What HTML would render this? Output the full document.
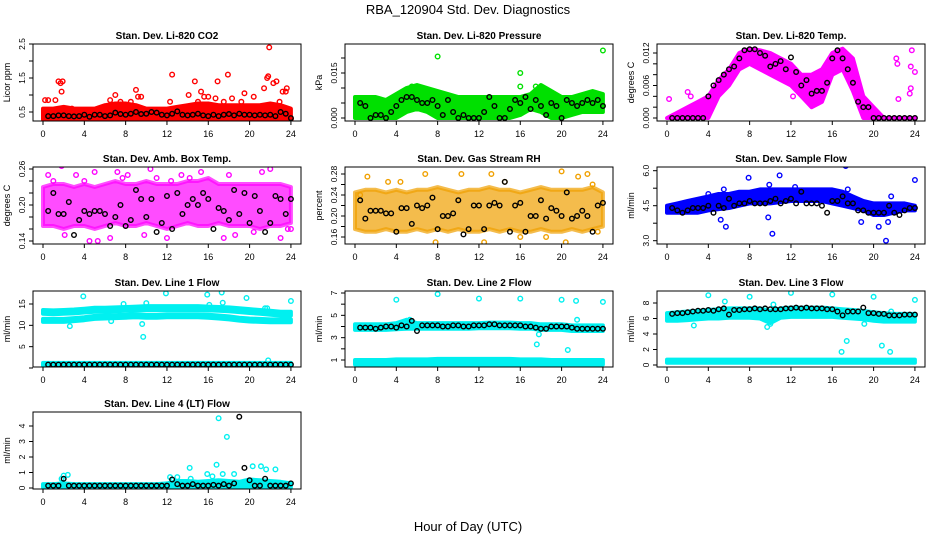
<!DOCTYPE html>
<html><head><meta charset="utf-8"><style>
html,body{margin:0;padding:0;background:#fff}
svg{display:block}
text{font-family:"Liberation Sans",sans-serif;fill:#000}
</style></head><body>
<svg id="chart" width="936" height="540" viewBox="0 0 936 540" xmlns="http://www.w3.org/2000/svg">
<text x="468" y="14" font-size="13" text-anchor="middle">RBA_120904  Std. Dev. Diagnostics</text>
<text x="468" y="531" font-size="13" text-anchor="middle">Hour of Day (UTC)</text>
</svg>
<script>
// ---- data ----
const bandHours = [0,1,2,3,4,5,6,7,8,9,10,11,12,13,14,15,16,17,18,19,20,21,22,23,24];
const xTicks = [0,4,8,12,16,20,24];

const co2Lo = [0.28,0.28,0.28,0.28,0.28,0.28,0.28,0.28,0.28,0.28,0.28,0.28,0.28,0.28,0.28,0.28,0.28,0.28,0.28,0.28,0.28,0.28,0.28,0.28,0.28];
const co2Hi = [0.6,0.6,0.65,0.6,0.6,0.6,0.7,0.75,0.75,0.7,0.6,0.6,0.6,0.65,0.7,0.75,0.75,0.7,0.7,0.7,0.7,0.7,0.75,0.7,0.6];
const co2Out = [[0.2,0.85],[0.5,0.85],[1.2,0.85],[1.5,1.4],[1.7,1.35],[1.9,1.4],[1.8,1.1],[2.8,0.6],[6.5,0.85],[7,1.0],[7.5,0.8],[8.5,0.8],[9,1.15],[9.2,0.95],[9.5,0.95],[12.3,0.8],[12.5,1.6],[14.1,1.0],[14.7,1.4],[15,0.8],[15.3,1.1],[15.6,0.95],[16,0.95],[16.7,0.9],[16.9,1.4],[17.5,0.8],[17.9,1.6],[18.3,0.9],[19.2,0.8],[19.5,1.05],[20.4,0.95],[21.4,1.2],[21.7,1.5],[21.8,1.55],[21.9,2.4],[22.3,1.35],[22.6,1.4],[22.9,0.8],[23.2,1.1],[23.6,1.2],[23.5,1.1],[24,0.3]];
const co2Black = [0.38,0.38,0.4,0.4,0.38,0.37,0.38,0.42,0.36,0.42,0.42,0.38,0.4,0.48,0.44,0.42,0.45,0.5,0.44,0.45,0.5,0.48,0.42,0.4,0.45,0.52,0.42,0.4,0.42,0.45,0.4,0.38,0.42,0.38,0.42,0.44,0.4,0.45,0.42,0.42,0.4,0.42,0.4,0.42,0.38,0.5,0.45,0.32];

const presLo = [0,0,0,0,0,0.002,0.003,0.002,0,0,0,0,0,0,0,0,0.001,0.003,0.002,0,0,0.001,0.002,0.002,0.002];
const presHi = [0.007,0.007,0.007,0.006,0.008,0.01,0.011,0.01,0.009,0.008,0.007,0.007,0.007,0.007,0.007,0.007,0.007,0.008,0.011,0.009,0.007,0.007,0.008,0.009,0.008];
const presOut = [[8,0.0205],[16,0.015],[16,0.0105],[24,0.0225],[5.5,0.0105],[17.5,0.0105]];
const presBlack = [0.005,0.004,0,0.001,0.001,0,0.002,0.004,0.006,0.007,0.007,0.006,0.005,0.005,0.006,0.004,0.001,0.006,0.002,0,0.001,0,0,0,0.002,0.007,0.004,0,0,0.003,0.006,0.005,0.007,0.003,0.006,0.004,0.001,0.005,0.004,0,0.006,0.005,0.004,0.005,0.006,0.005,0.006,0.004];

const tempLo = [0,0,0,0,0,0.004,0.006,0.009,0.01,0.009,0.008,0.007,0.006,0.004,0.002,0.003,0.008,0.009,0.005,0,0,0,0,0,0];
const tempHi = [0,0.001,0.002,0.003,0.004,0.007,0.009,0.012,0.0128,0.0125,0.012,0.011,0.01,0.008,0.008,0.009,0.012,0.0128,0.011,0.004,0.002,0,0,0,0];
const tempOut = [[0.2,0.0035],[2,0.0048],[2.3,0.004],[12.2,0.004],[22.4,0.0035],[22.2,0.011],[22.3,0.010],[23.5,0.0045],[23.6,0.0055],[23.7,0.0125],[23.6,0.0095],[24,0.0085]];
const tempBlack = [0,0,0,0,0,0,0,0.004,0.006,0.007,0.008,0.009,0.0095,0.011,0.0125,0.0127,0.0127,0.012,0.0115,0.0095,0.01,0.0105,0.009,0.0112,0.0085,0.006,0.007,0.0045,0.005,0.005,0.0065,0.011,0.0125,0.011,0.009,0.0065,0.003,0.002,0.002,0,0,0,0,0,0,0,0,0];

const ambLo = [0.165,0.165,0.16,0.165,0.165,0.16,0.165,0.17,0.165,0.165,0.17,0.165,0.16,0.165,0.17,0.165,0.165,0.17,0.165,0.165,0.165,0.16,0.165,0.165,0.17];
const ambHi = [0.23,0.235,0.235,0.23,0.235,0.23,0.235,0.24,0.235,0.235,0.24,0.235,0.235,0.235,0.24,0.24,0.245,0.235,0.235,0.235,0.235,0.235,0.235,0.235,0.23];
const ambOut = [[0.5,0.25],[1,0.24],[1.8,0.265],[2.1,0.15],[3.2,0.25],[4,0.24],[4.5,0.14],[5,0.255],[5.3,0.14],[6.5,0.145],[7.2,0.255],[7.7,0.245],[8.2,0.25],[9.8,0.15],[10.4,0.26],[11,0.245],[12,0.145],[12.4,0.24],[13.4,0.25],[14.2,0.245],[15.3,0.255],[16.3,0.27],[17.5,0.145],[18,0.25],[18.6,0.15],[20.4,0.155],[21.2,0.255],[22,0.26],[22.5,0.27],[23,0.145],[23.7,0.16],[24,0.16]];
const ambBlack = [0.19,0.22,0.185,0.185,0.205,0.15,0.175,0.19,0.185,0.19,0.19,0.185,0.165,0.18,0.2,0.165,0.175,0.225,0.21,0.18,0.21,0.155,0.17,0.215,0.16,0.22,0.185,0.2,0.21,0.2,0.22,0.21,0.16,0.195,0.19,0.175,0.225,0.185,0.22,0.17,0.215,0.19,0.155,0.17,0.215,0.21,0.185,0.21];

const rhLo = [0.175,0.17,0.17,0.175,0.17,0.17,0.175,0.17,0.175,0.17,0.175,0.17,0.17,0.175,0.17,0.175,0.17,0.17,0.175,0.17,0.17,0.175,0.17,0.175,0.18];
const rhHi = [0.245,0.25,0.25,0.245,0.25,0.245,0.25,0.25,0.255,0.25,0.245,0.25,0.25,0.255,0.25,0.25,0.245,0.25,0.255,0.25,0.25,0.25,0.25,0.255,0.245];
const rhOut = [[0.5,0.24],[1.2,0.275],[3.2,0.265],[4.4,0.265],[6.8,0.28],[7.8,0.15],[10.3,0.28],[12.5,0.15],[13.2,0.28],[14.5,0.265],[16,0.16],[18.5,0.16],[20,0.285],[20.4,0.15],[21.6,0.275],[22.5,0.28],[23,0.26],[23.5,0.17]];
const rhBlack = [0.23,0.195,0.21,0.21,0.21,0.205,0.205,0.17,0.215,0.215,0.185,0.22,0.215,0.22,0.235,0.175,0.2,0.2,0.205,0.23,0.165,0.175,0.22,0.22,0.175,0.22,0.225,0.22,0.265,0.17,0.22,0.225,0.17,0.2,0.2,0.23,0.195,0.215,0.21,0.2,0.245,0.195,0.2,0.21,0.2,0.17,0.22,0.225];

const sfLo = [4.2,4.2,4.2,4.2,4.3,4.35,4.4,4.5,4.6,4.6,4.6,4.65,4.7,4.7,4.7,4.7,4.6,4.5,4.4,4.3,4.1,4.1,4.2,4.3,4.3];
const sfHi = [4.5,4.6,4.7,4.8,4.9,5.0,5.0,5.1,5.1,5.2,5.2,5.2,5.2,5.2,5.2,5.2,5.2,5.1,4.9,4.7,4.6,4.6,4.6,4.6,4.5];
const sfOut = [[5.5,5.2],[5.2,3.9],[5.7,3.6],[7.9,5.7],[9.8,4.0],[10.2,3.3],[10.9,5.8],[12.4,5.3],[16,6.4],[17.3,6.2],[17.5,5.2],[18.8,3.8],[20.5,3.6],[21.2,3.0],[21.4,3.8],[21.7,4.9],[24,5.6],[9.9,5.4],[4,5.0]];
const sfBlack = [4.4,4.3,4.2,4.3,4.4,4.4,4.4,4.5,4.2,4.5,4.4,4.8,4.5,4.6,4.6,4.7,4.6,4.6,4.6,4.7,4.8,4.6,4.7,4.8,4.6,5.1,4.6,4.6,4.6,4.5,4.2,4.7,4.7,4.9,4.6,4.6,4.3,4.3,4.2,4.2,4.2,4.2,4.5,4.2,4.1,4.3,4.4,4.4];

const l1UpLo = [12.7,12.6,12.7,12.8,13,13.2,13.2,13.3,13.4,13.5,13.6,13.6,13.6,13.6,13.6,13.6,13.5,13.4,13.3,13.1,12.9,12.7,12.5,12.3,12.3];
const l1UpHi = [13.6,13.5,13.6,13.7,13.9,14.1,14.1,14.2,14.3,14.4,14.5,14.5,14.5,14.5,14.5,14.5,14.4,14.3,14.2,14.0,13.8,13.6,13.4,13.2,13.2];
const l1MidLo = [10.8,10.8,10.8,11,11.2,11.5,11.6,11.7,11.8,11.9,11.8,11.8,11.9,11.9,11.9,11.9,11.8,11.6,11.4,11.1,10.9,10.8,10.7,10.7,10.7];
const l1MidHi = [11.5,11.5,11.5,11.7,11.9,12.2,12.3,12.4,12.5,12.6,12.5,12.5,12.6,12.6,12.6,12.6,12.5,12.3,12.1,11.8,11.6,11.5,11.4,11.4,11.4];
const l1LowLo = [0.6,0.6,0.6,0.6,0.6,0.6,0.6,0.6,0.6,0.6,0.6,0.6,0.6,0.6,0.6,0.6,0.6,0.6,0.6,0.6,0.6,0.6,0.6,0.6,0.6];
const l1LowHi = [1.2,1.2,1.2,1.2,1.2,1.2,1.2,1.2,1.2,1.2,1.2,1.2,1.2,1.2,1.2,1.2,1.2,1.2,1.2,1.2,1.2,1.2,1.2,1.2,1.2];
const l1Out = [[3.9,16.8],[7.8,15],[9.6,10.3],[9.7,7.3],[10,15.2],[11.9,17.5],[15.9,17.2],[16.1,14.8],[17.3,17.7],[17.4,15.3],[19.7,16.4],[21.5,14],[21.7,14],[21.8,1.8],[24,15.7],[2.6,9.8],[6.6,11]];
const l1Black = [0.8,0.8,0.8,0.8,0.8,0.8,0.8,0.8,0.8,0.8,0.8,0.8,0.8,0.8,0.8,0.8,0.8,0.8,0.8,0.8,0.8,0.8,0.8,0.8,0.8,0.8,0.8,0.8,0.8,0.8,0.8,0.8,0.8,0.8,0.8,0.8,0.8,0.8,0.8,0.8,0.8,0.8,0.8,0.8,0.8,0.8,0.8,0.8];

const l2UpLo = [3.7,3.7,3.7,3.7,3.75,3.8,3.8,3.8,3.8,3.8,3.8,3.8,3.85,3.85,3.85,3.85,3.8,3.8,3.7,3.7,3.7,3.6,3.6,3.6,3.6];
const l2UpHi = [4.2,4.2,4.2,4.2,4.3,4.6,4.3,4.3,4.3,4.3,4.3,4.3,4.3,4.35,4.35,4.35,4.3,4.3,4.2,4.2,4.2,4.1,4.1,4.1,4.1];
const l2LowLo = [0.6,0.6,0.6,0.6,0.6,0.6,0.6,0.6,0.6,0.6,0.6,0.6,0.6,0.6,0.6,0.6,0.6,0.6,0.6,0.6,0.6,0.6,0.6,0.6,0.6];
const l2LowHi = [1.0,1.0,1.0,1.0,1.05,1.05,1.05,1.05,1.1,1.1,1.1,1.1,1.1,1.1,1.1,1.1,1.05,1.05,1.05,1.0,1.0,1.0,1.0,1.0,1.0];
const l2Out = [[4,6.4],[8,6.9],[12,6.5],[16,6.5],[17.6,2.4],[17.8,3.3],[20,6.4],[20.6,1.9],[21.4,6.3],[21.5,4.6],[24,6.2],[5.3,4.6],[5,4.5]];
const l2Black = [3.9,3.9,3.9,3.8,3.9,4,4,3.9,4.1,4,4.5,3.6,4.1,4.1,4.1,4.1,4,4,4.1,4.1,4,4,4.1,4.1,4.1,4.2,4.2,4.1,4.1,4.1,4.1,4.1,4,4,3.9,3.8,3.8,4,4,4,4,3.9,3.8,3.8,3.8,3.8,3.8,3.8];

const l3UpLo = [5.7,5.7,5.8,5.9,6.0,6.0,6.1,6.1,6.1,6.0,5.4,6.1,6.2,6.2,6.2,6.2,6.2,6.1,6.0,5.9,5.7,5.6,5.6,5.6,5.6];
const l3UpHi = [6.7,6.8,6.9,7.0,7.1,7.2,7.3,7.3,7.3,7.3,7.0,7.3,7.4,7.4,7.4,7.4,7.3,7.2,7.1,7.0,6.8,6.7,6.6,6.6,6.6];
const l3LowLo = [0.3,0.3,0.3,0.3,0.3,0.3,0.3,0.3,0.3,0.3,0.3,0.3,0.3,0.3,0.3,0.3,0.3,0.3,0.3,0.3,0.3,0.3,0.3,0.3,0.3];
const l3LowHi = [0.7,0.7,0.7,0.7,0.7,0.7,0.7,0.7,0.7,0.7,0.7,0.7,0.7,0.7,0.7,0.7,0.7,0.7,0.7,0.7,0.7,0.7,0.7,0.7,0.7];
const l3Out = [[4,9],[8,8.8],[12,9.3],[16,9.1],[20,8.8],[24,8.4],[2.6,5.1],[5.6,8.2],[9.7,4.9],[10,5.3],[10.3,7.8],[17.4,3.1],[16.9,1.7],[19.1,5.3],[20.8,2.5],[21.6,1.7],[21.7,6.9]];
const l3Black = [6.6,6.7,6.7,6.8,6.9,7,7,7.1,7,7.2,7.3,6.5,7.1,7.1,7.2,7.2,7.3,7.2,7.3,7.2,7.2,7.2,7.3,7.3,7.4,7.3,7.4,7.3,7.3,7.3,7.2,7.2,6.9,6.4,6.9,6.9,6.9,7.4,6.7,6.7,6.6,6.6,6.4,6.4,6.4,6.5,6.5,6.5];

const l4Lo = [0.05,0.05,0.05,0.05,0.05,0.05,0.05,0.05,0.05,0.05,0.05,0.05,0.05,0.05,0.05,0.05,0.05,0.05,0.05,0.05,0.05,0.05,0.05,0.05,0.05];
const l4Hi = [0.25,0.25,0.3,0.25,0.25,0.25,0.25,0.25,0.25,0.25,0.25,0.25,0.3,0.45,0.45,0.4,0.45,0.5,0.45,0.4,0.55,0.5,0.45,0.4,0.3];
const l4Out = [[1.8,0.6],[2,0.8],[2.4,0.85],[12.3,0.7],[13,0.7],[14.2,1.3],[14.3,0.6],[15.9,0.9],[16.4,0.75],[16.8,1.5],[17,4.5],[17.4,0.9],[17.8,3.3],[18.5,0.9],[20.3,1.4],[21.1,1.4],[21.6,1.2],[22.5,1.2]];
const l4Black = [0.15,0.15,0.15,0.6,0.15,0.15,0.15,0.15,0.15,0.15,0.15,0.15,0.15,0.15,0.15,0.15,0.15,0.15,0.15,0.15,0.15,0.15,0.15,0.15,0.55,0.25,0.15,0.15,0.25,0.15,0.15,0.15,0.2,0.15,0.25,0.15,0.3,4.6,1.3,0.5,0.15,0.15,0.6,0.15,0.15,0.15,0.15,0.3];

// ---- layout ----
const colX = [[33,301,43],[345,613,355],[657,925,667]];
const rowY = [[44,121],[167,244],[291,367],[412,489]];
const pxPerHour = 10.33;

const panels = [
 {name:'co2',title:'Stan. Dev. Li-820 CO2',ytitle:'Licor ppm',c:0,r:0,v1:0.5,y1:112,v2:2.5,y2:44,ticks:[0.5,1,1.5,2,2.5],labels:{'0.5':'0.5','1.5':'1.5','2.5':'2.5'},color:'#ff0000',bands:[[co2Lo,co2Hi]],out:co2Out,blk:co2Black},
 {name:'pressure',title:'Stan. Dev. Li-820 Pressure',ytitle:'kPa',c:1,r:0,v1:0,y1:118,v2:0.015,y2:73,ticks:[0,0.005,0.01,0.015,0.02],labels:{'0':'0.000','0.015':'0.015'},color:'#00e000',bands:[[presLo,presHi]],out:presOut,blk:presBlack},
 {name:'temp',title:'Stan. Dev. Li-820 Temp.',ytitle:'degrees C',c:2,r:0,v1:0,y1:118,v2:0.012,y2:53,ticks:[0,0.002,0.004,0.006,0.008,0.01,0.012],labels:{'0':'0.000','0.006':'0.006','0.012':'0.012'},color:'#ff00ff',bands:[[tempLo,tempHi]],out:tempOut,blk:tempBlack},
 {name:'amb-box-temp',title:'Stan. Dev. Amb. Box Temp.',ytitle:'degrees C',c:0,r:1,v1:0.14,y1:241,v2:0.26,y2:169,ticks:[0.14,0.16,0.18,0.2,0.22,0.24,0.26],labels:{'0.14':'0.14','0.2':'0.20','0.26':'0.26'},color:'#ff00ff',bands:[[ambLo,ambHi]],out:ambOut,blk:ambBlack,op:0.7},
 {name:'gas-stream-rh',title:'Stan. Dev. Gas Stream RH',ytitle:'percent',c:1,r:1,v1:0.16,y1:237,v2:0.28,y2:174,ticks:[0.16,0.18,0.2,0.22,0.24,0.26,0.28],labels:{'0.16':'0.16','0.2':'0.20','0.24':'0.24','0.28':'0.28'},color:'#f0a000',bands:[[rhLo,rhHi]],out:rhOut,blk:rhBlack,op:0.7},
 {name:'sample-flow',title:'Stan. Dev. Sample Flow',ytitle:'ml/min',c:2,r:1,v1:3,y1:240.7,v2:6,y2:170.7,ticks:[3,3.75,4.5,5.25,6],labels:{'3':'3.0','4.5':'4.5','6':'6.0'},color:'#0000ff',bands:[[sfLo,sfHi]],out:sfOut,blk:sfBlack},
 {name:'line1-flow',title:'Stan. Dev. Line 1 Flow',ytitle:'ml/min',c:0,r:2,v1:0,y1:368,v2:15,y2:304,ticks:[0,5,10,15],labels:{'5':'5','10':'10','15':'15'},color:'#00f0f0',bands:[[l1UpLo,l1UpHi],[l1MidLo,l1MidHi],[l1LowLo,l1LowHi]],out:l1Out,blk:l1Black},
 {name:'line2-flow',title:'Stan. Dev. Line 2 Flow',ytitle:'ml/min',c:1,r:2,v1:1,y1:360,v2:7,y2:293,ticks:[1,2,3,4,5,6,7],labels:{'1':'1','3':'3','5':'5','7':'7'},color:'#00f0f0',bands:[[l2UpLo,l2UpHi],[l2LowLo,l2LowHi]],out:l2Out,blk:l2Black},
 {name:'line3-flow',title:'Stan. Dev. Line 3 Flow',ytitle:'ml/min',c:2,r:2,v1:0,y1:365,v2:8,y2:303,ticks:[0,2,4,6,8],labels:{'0':'0','2':'2','4':'4','6':'6','8':'8'},color:'#00f0f0',bands:[[l3UpLo,l3UpHi],[l3LowLo,l3LowHi]],out:l3Out,blk:l3Black},
 {name:'line4-flow',title:'Stan. Dev. Line 4 (LT) Flow',ytitle:'ml/min',c:0,r:3,v1:0,y1:488,v2:4,y2:426,ticks:[0,1,2,3,4],labels:{'0':'0','1':'1','2':'2','3':'3','4':'4'},color:'#00f0f0',bands:[[l4Lo,l4Hi]],out:l4Out,blk:l4Black}
];

const NS = 'http://www.w3.org/2000/svg';
const svg = document.getElementById('chart');
function mk(tag, attrs, parent){const e=document.createElementNS(NS,tag);for(const k in attrs)e.setAttribute(k,attrs[k]);parent.appendChild(e);return e;}

panels.forEach(p=>{
  const [bx0,bx1,x0] = colX[p.c];
  const [by0,by1] = rowY[p.r];
  const xs = h => x0 + h*pxPerHour;
  const ys = v => p.y1 + (v-p.v1)*(p.y2-p.y1)/(p.v2-p.v1);
  const g = mk('g',{},svg);
  
  
  const clipId='clip-'+p.name;
  const cp = mk('clipPath',{id:clipId},g);
  mk('rect',{x:bx0,y:by0,width:bx1-bx0,height:by1-by0},cp);
  const plot = mk('g',{'clip-path':'url(#'+clipId+')'},g);
  
  
  p.bands.forEach((b,bi)=>{
    let d='';
    bandHours.forEach((h,i)=>{d+=(i?'L':'M')+xs(h).toFixed(1)+','+ys(b[1][i]).toFixed(1);});
    for(let i=bandHours.length-1;i>=0;i--) d+='L'+xs(bandHours[i]).toFixed(1)+','+ys(b[0][i]).toFixed(1);
    d+='Z';
    const path = mk('path',{d:d,fill:p.color,'fill-opacity':p.op||1,stroke:p.color,'stroke-width':4,'stroke-linejoin':'round','stroke-opacity':p.op||1},plot);
    
    
  });
  p.out.forEach(o=>{
    const c = mk('circle',{cx:xs(o[0]),cy:ys(o[1]),r:2.3,fill:'none',stroke:p.color,'stroke-width':1.4},plot);
    
    
  });
  p.blk.forEach((v,i)=>{
    const c = mk('circle',{cx:xs(0.5*(i+1)),cy:ys(v),r:2.3,fill:'none',stroke:'#000','stroke-width':1.4},plot);
    
    
  });
  const box = mk('rect',{x:bx0,y:by0,width:bx1-bx0,height:by1-by0,fill:'none',stroke:'#000','stroke-width':1},g);
  
  
  const t = mk('text',{x:(bx0+bx1)/2,y:by0-5,'font-size':10,'font-weight':'bold','text-anchor':'middle'},g);
  t.textContent=p.title;
  
  
  mk('line',{x1:xs(0),x2:xs(24),y1:by1,y2:by1,stroke:'#000'},g);
  xTicks.forEach(h=>{
    mk('line',{x1:xs(h),x2:xs(h),y1:by1,y2:by1+4,stroke:'#000'},g);
    const tl=mk('text',{x:xs(h),y:by1+16,'font-size':9,'text-anchor':'middle'},g);
    tl.textContent=h;
    
    
  });
  const tk=p.ticks;
  mk('line',{x1:bx0,x2:bx0,y1:Math.min(by1,ys(tk[0])),y2:Math.max(by0,ys(tk[tk.length-1])),stroke:'#000'},g);
  tk.forEach(v=>{
    const y=ys(v);
    mk('line',{x1:bx0-4,x2:bx0,y1:y,y2:y,stroke:'#000'},g);
    const lab=p.labels[String(v)];
    if(lab!==undefined){
      const tl=mk('text',{x:bx0-8,y:y,'font-size':8.5,'text-anchor':'middle',transform:'rotate(-90 '+(bx0-8)+' '+y+')'},g);
      tl.textContent=lab;
      
      
    }
  });
  const cy=(by0+by1)/2, tx=bx0-23;
  const yt=mk('text',{x:tx,y:cy,'font-size':9,'text-anchor':'middle',transform:'rotate(-90 '+tx+' '+cy+')'},g);
  yt.textContent=p.ytitle;
  
  
});
</script>
</body></html>
